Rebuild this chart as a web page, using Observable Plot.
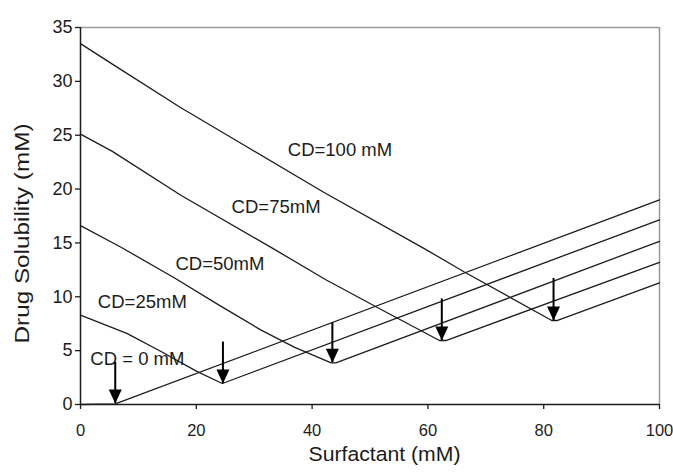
<!DOCTYPE html>
<html>
<head>
<meta charset="utf-8">
<script src="https://cdn.jsdelivr.net/npm/d3@7"></script>
<script src="https://cdn.jsdelivr.net/npm/@observablehq/plot@0.6"></script>
<style>
  html, body { margin: 0; padding: 0; background: #fff; }
</style>
</head>
<body>
<script>
// Axis ticks
const xTicks = [0, 20, 40, 60, 80, 100];
const yTicks = [0, 5, 10, 15, 20, 25, 30, 35];

// Series labels
const seriesNames = ["CD = 0 mM", "CD=25mM", "CD=50mM", "CD=75mM", "CD=100 mM"];

// Surfactant (mM) / Drug solubility (mM) per series
const cd0X = [0, 6.0, 100];
const cd0Y = [0, 0.05, 19.0];
const cd25X = [0, 8, 14, 20, 24.5, 100];
const cd25Y = [8.3, 6.6, 4.9, 3.1, 1.95, 17.15];
const cd50X = [0, 7, 16.4, 24, 31.2, 37, 43.3, 44.1, 100];
const cd50Y = [16.6, 14.6, 11.7, 9.2, 6.9, 5.3, 3.87, 3.87, 15.15];
const cd75X = [0, 5.5, 17.4, 33.5, 42.3, 52, 62.0, 63.1, 100];
const cd75Y = [25.1, 23.5, 19.4, 14.4, 11.6, 8.8, 5.94, 5.94, 13.2];
const cd100X = [0, 5.5, 17.2, 28.5, 42, 59.3, 66.3, 81.4, 82.4, 100];
const cd100Y = [33.5, 31.6, 27.6, 24.0, 19.7, 14.5, 12.3, 7.8, 7.8, 11.3];

// Arrows marking the minima
const arrowX = [6.0, 24.6, 43.5, 62.4, 81.7];
const arrowTop = [3.9, 5.8, 7.6, 9.8, 11.7];
const arrowTip = [0.1, 1.95, 3.87, 5.94, 7.8];

// Series label positions (data coords)
const labelX = [1.7, 3.0, 16.4, 26.1, 35.8];
const labelY = [4.24, 9.5, 13.0, 18.3, 23.6];

const seriesX = [cd0X, cd25X, cd50X, cd75X, cd100X];
const seriesY = [cd0Y, cd25Y, cd50Y, cd75Y, cd100Y];
const lineRows = [];
seriesNames.forEach((name, s) => {
  seriesX[s].forEach((x, i) => lineRows.push({series: name, x, y: seriesY[s][i]}));
});
const arrowRows = arrowX.map((x, i) => ({x, top: arrowTop[i], tip: arrowTip[i]}));
const labelRows = seriesNames.map((name, i) => ({name, x: labelX[i], y: labelY[i]}));

const downTriangle = {
  draw(ctx) {
    ctx.moveTo(0, 0);
    ctx.lineTo(-6.5, -14);
    ctx.lineTo(6.5, -14);
    ctx.closePath();
  }
};

const ink = "#1c1c1c";

const chart = Plot.plot({
  width: 673,
  height: 474,
  marginLeft: 80,
  marginRight: 14,
  marginTop: 27,
  marginBottom: 70,
  style: {fontFamily: "'Liberation Sans', Arial, sans-serif", fontSize: "18px", color: ink, background: "#fff"},
  x: {domain: [0, 100]},
  y: {domain: [0, 35]},
  marks: [
    Plot.ruleY([35], {stroke: "#999", strokeWidth: 1.5}),
    Plot.ruleX([100], {stroke: "#999", strokeWidth: 1.5}),
    Plot.text(labelRows, {x: "x", y: "y", text: "name", textAnchor: "start", fontSize: 18.5, fill: ink}),
    Plot.line(lineRows, {x: "x", y: "y", z: "series", stroke: ink, strokeWidth: 1.3}),
    Plot.ruleX(arrowRows, {x: "x", y1: "top", y2: "tip", stroke: "#000", strokeWidth: 2}),
    Plot.dot(arrowRows, {x: "x", y: "tip", symbol: downTriangle, fill: "#000", stroke: null}),
    Plot.ruleY([0], {stroke: ink, strokeWidth: 1.5}),
    Plot.ruleX([0], {stroke: ink, strokeWidth: 1.5}),
    Plot.axisX({ticks: xTicks, tickSize: 5, tickPadding: 15, label: null, stroke: ink, strokeWidth: 1.3, fontSize: 16.5}),
    Plot.axisY({ticks: yTicks, tickSize: 5, tickPadding: 3, label: null, stroke: ink, strokeWidth: 1.3}),
    Plot.text(["Surfactant (mM)"], {frameAnchor: "bottom", textAnchor: "start", dx: -61.5, dy: 56.5, fontSize: 20.5, fill: ink}),
    Plot.text(["Drug Solubility (mM)"], {frameAnchor: "left", textAnchor: "start", rotate: -90, dx: -57.5, dy: 127.5, fontSize: 19.5, fill: ink})
  ]
});
document.body.appendChild(chart);

d3.select(chart).selectAll("text")
  .filter(function() { return this.textContent === "Drug Solubility (mM)"; })
  .attr("textLength", 220).attr("lengthAdjust", "spacingAndGlyphs");
d3.select(chart).selectAll("text")
  .filter(function() { return this.textContent === "Surfactant (mM)"; })
  .attr("textLength", 152).attr("lengthAdjust", "spacingAndGlyphs");
</script>
</body>
</html>
